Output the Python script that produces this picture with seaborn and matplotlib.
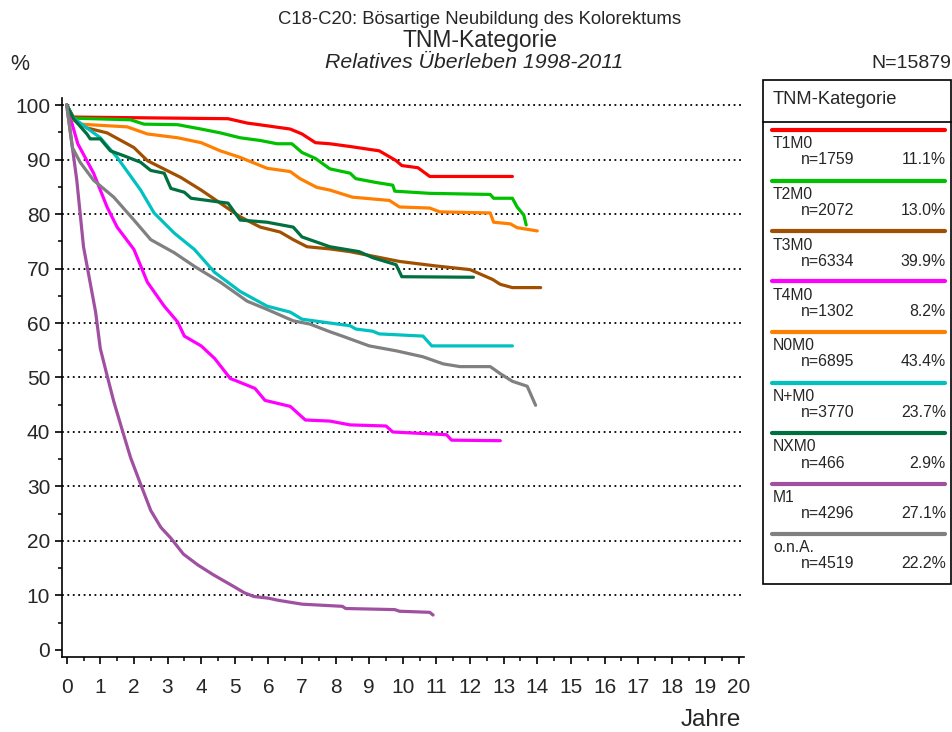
import numpy as np
import pandas as pd
import matplotlib
matplotlib.use("Agg")
import matplotlib.pyplot as plt
from matplotlib.patches import Rectangle
from matplotlib.lines import Line2D
from matplotlib.ticker import MultipleLocator
import seaborn as sns

# --- data ---
categories = ["T1M0", "T2M0", "T3M0", "T4M0", "N0M0", "N+M0", "NXM0", "M1", "o.n.A."]
n_values = [1759, 2072, 6334, 1302, 6895, 3770, 466, 4296, 4519]
pct_values = ["11.1%", "13.0%", "39.9%", "8.2%", "43.4%", "23.7%", "2.9%", "27.1%", "22.2%"]
colors = ["#ff0000", "#00c000", "#a05000", "#ff00ff", "#ff8000",
          "#00c0c0", "#007040", "#a050a0", "#808080"]

t1m0_t = [0, 0.2, 4.8, 5.37, 5.96, 6.65, 7.0, 7.4, 7.83, 8.43, 9.3, 9.8, 9.97, 10.45, 10.8, 13.26]
t1m0_v = [100, 97.8, 97.5, 96.7, 96.2, 95.6, 94.7, 93.1, 92.9, 92.4, 91.6, 89.8, 88.9, 88.5, 86.9, 86.9]

t2m0_t = [0, 0.2, 1.9, 2.3, 3.3, 4.0, 4.57, 5.16, 5.76, 6.26, 6.7, 7.0, 7.4, 7.83, 8.43, 8.6,
          9.2, 9.7, 9.76, 10.8, 12.6, 12.7, 13.26, 13.4, 13.6, 13.67]
t2m0_v = [100, 97.6, 97.3, 96.5, 96.4, 95.6, 94.9, 94.0, 93.5, 92.9, 92.9, 91.3, 90.2, 88.3, 87.5, 86.5,
          85.8, 85.3, 84.2, 83.8, 83.6, 82.9, 82.9, 81.3, 79.8, 78.0]

t3m0_t = [0, 0.2, 0.6, 1.2, 2.0, 2.4, 3.4, 4.0, 4.57, 5.16, 5.76, 6.35, 6.74, 7.15, 7.83, 8.43,
          9.9, 10.95, 12.0, 12.67, 12.9, 13.26, 14.1]
t3m0_v = [100, 97.5, 95.8, 94.9, 92.2, 89.8, 86.7, 84.4, 82.0, 79.5, 77.6, 76.7, 75.3, 74.0, 73.6, 73.1,
          71.3, 70.5, 69.8, 68.0, 67.1, 66.5, 66.5]

t4m0_t = [0, 0.33, 0.8, 1.2, 1.5, 2.0, 2.4, 2.9, 3.3, 3.5, 4.0, 4.4, 4.87, 5.0, 5.6, 5.9, 6.65,
          7.1, 7.83, 8.43, 9.5, 9.7, 11.3, 11.45, 12.9]
t4m0_v = [100, 92.9, 87.5, 81.3, 77.6, 73.5, 67.5, 63.1, 60.2, 57.6, 55.8, 53.5, 49.8, 49.5, 48.0, 45.8, 44.7,
          42.2, 42.0, 41.3, 41.1, 40.0, 39.5, 38.5, 38.4]

n0m0_t = [0, 0.2, 0.4, 1.8, 2.4, 3.3, 4.0, 4.57, 5.16, 5.96, 6.65, 6.94, 7.44, 7.83, 8.5, 9.6,
          9.9, 10.8, 11.1, 12.6, 12.7, 13.2, 13.4, 14.0]
n0m0_v = [100, 97.3, 96.5, 96.0, 94.7, 94.0, 93.1, 91.6, 90.4, 88.4, 87.8, 86.5, 84.9, 84.4, 83.1, 82.5,
          81.3, 81.1, 80.4, 80.2, 78.5, 78.2, 77.5, 76.9]

npm0_t = [0, 0.2, 1.0, 1.5, 2.2, 2.6, 3.2, 3.8, 4.4, 5.16, 5.96, 6.65, 7.0, 7.83, 8.43, 8.6,
          9.1, 9.3, 10.6, 10.86, 13.26]
npm0_v = [100, 97.6, 94.0, 90.4, 84.4, 80.2, 76.5, 73.5, 69.3, 65.8, 63.1, 62.0, 60.7, 60.0, 59.5, 58.9,
          58.5, 58.0, 57.6, 55.8, 55.8]

nxm0_t = [0, 0.2, 0.6, 0.7, 1.0, 1.3, 1.7, 2.2, 2.5, 2.9, 3.1, 3.5, 3.7, 4.8, 5.16, 5.96, 6.74,
          7.0, 7.83, 8.7, 9.1, 9.8, 9.97, 12.1]
nxm0_v = [100, 97.5, 94.7, 93.8, 93.8, 91.6, 90.7, 89.5, 88.0, 87.5, 84.7, 84.0, 82.9, 82.0, 78.9, 78.5, 77.6,
          75.8, 74.0, 73.1, 72.0, 70.7, 68.5, 68.4]

m1_t = [0, 0.3, 0.5, 0.86, 1.0, 1.2, 1.4, 1.65, 1.9, 2.2, 2.5, 2.8, 3.1, 3.47, 3.9, 4.36, 4.98,
        5.28, 5.57, 6.0, 6.3, 7.0, 8.2, 8.3, 9.76, 9.9, 10.8, 10.9]
m1_v = [100, 86.2, 74.0, 62.0, 55.3, 50.4, 45.6, 40.4, 35.3, 30.4, 25.6, 22.5, 20.5, 17.6, 15.6, 13.8, 11.6,
        10.5, 9.8, 9.5, 9.1, 8.4, 8.0, 7.6, 7.4, 7.1, 6.9, 6.4]

ona_t = [0, 0.17, 0.4, 0.8, 1.4, 2.0, 2.5, 3.2, 3.8, 4.57, 5.37, 5.96, 6.74, 7.24, 7.83, 8.2,
         9.0, 9.8, 10.6, 11.2, 11.7, 12.6, 12.9, 13.26, 13.7, 13.95]
ona_v = [100, 92.2, 89.5, 86.2, 83.1, 78.9, 75.3, 72.9, 70.4, 67.5, 64.0, 62.5, 60.4, 59.8, 58.4, 57.6,
         55.8, 54.9, 53.8, 52.5, 52.0, 52.0, 50.7, 49.3, 48.4, 44.9]

series_t = [t1m0_t, t2m0_t, t3m0_t, t4m0_t, n0m0_t, npm0_t, nxm0_t, m1_t, ona_t]
series_v = [t1m0_v, t2m0_v, t3m0_v, t4m0_v, n0m0_v, npm0_v, nxm0_v, m1_v, ona_v]

frames = []
for cat, t, v in zip(categories, series_t, series_v):
    frames.append(pd.DataFrame({"Jahre": t, "Ueberleben": v, "Kategorie": cat}))
df = pd.concat(frames, ignore_index=True)

# --- plotting ---
sns.set_style("ticks")
plt.rcParams["font.family"] = ["Liberation Sans", "DejaVu Sans"]

W, H = 953, 732
fig = plt.figure(figsize=(W / 100, H / 100), dpi=100)
ax = fig.add_axes([62 / W, 75 / H, (744 - 62) / W, (657 - 98) / H])

sns.lineplot(data=df, x="Jahre", y="Ueberleben", hue="Kategorie",
             palette=dict(zip(categories, colors)), hue_order=categories,
             estimator=None, sort=False, linewidth=2.3, legend=False, ax=ax)

ax.set_xlim(-0.14, 20.15)
ax.set_ylim(-1.3, 101.3)
ax.xaxis.set_major_locator(MultipleLocator(1))
ax.xaxis.set_minor_locator(MultipleLocator(0.5))
ax.yaxis.set_major_locator(MultipleLocator(10))
ax.yaxis.set_minor_locator(MultipleLocator(5))
ax.tick_params(axis="both", which="major", direction="out", length=5, width=1.2,
               color="black", labelsize=15)
ax.tick_params(axis="both", which="minor", direction="out", length=3, width=1.1, color="black")
ax.tick_params(axis="x", which="major", pad=10)
ax.tick_params(axis="y", which="major", pad=3.5)
ax.set_xlabel("")
ax.set_ylabel("")
for s in ["top", "right"]:
    ax.spines[s].set_visible(False)
for s in ["left", "bottom"]:
    ax.spines[s].set_linewidth(1.2)
    ax.spines[s].set_color("black")

ax.grid(axis="y", which="major", color="black", linestyle=(0, (1, 2)), linewidth=1.3)
ax.set_axisbelow(True)
for gl, yv in zip(ax.get_ygridlines(), ax.get_yticks()):
    if yv < 5:
        gl.set_visible(False)

# --- titles ---
fig.text(480 / W, 1 - 20 / H, "C18-C20: Bösartige Neubildung des Kolorektums",
         ha="center", va="center", fontsize=13.3)
fig.text(480 / W, 1 - 41 / H, "TNM-Kategorie", ha="center", va="center", fontsize=16.5)
fig.text(474 / W, 1 - 63 / H, "Relatives Überleben 1998-2011", ha="center", va="center",
         fontsize=15.3, style="italic")
fig.text(10 / W, 1 - 64 / H, "%", ha="left", va="center", fontsize=15.5)
fig.text(951 / W, 1 - 64 / H, "N=15879", ha="right", va="center", fontsize=14)
fig.text(741 / W, 1 - 720 / H, "Jahre", ha="right", va="center", fontsize=17.5)

# --- legend box ---
fig.patches.append(Rectangle((763 / W, 1 - 584 / H), (951 - 763) / W, (584 - 80) / H,
                             transform=fig.transFigure, fill=False, edgecolor="black",
                             linewidth=1.2))
fig.add_artist(Line2D([763 / W, 951 / W], [1 - 122 / H, 1 - 122 / H],
                      transform=fig.transFigure, color="black", linewidth=1.2))
fig.text(773 / W, 1 - 100 / H, "TNM-Kategorie", ha="left", va="center", fontsize=13.2)

step = 50.5
for i, (cat, n, p, c) in enumerate(zip(categories, n_values, pct_values, colors)):
    y0 = 130 + step * i
    fig.add_artist(Line2D([772 / W, 945 / W], [1 - y0 / H, 1 - y0 / H],
                          transform=fig.transFigure, color=c, linewidth=3))
    fig.text(773 / W, 1 - (y0 + 14) / H, cat, ha="left", va="center", fontsize=11.3)
    fig.text(801 / W, 1 - (y0 + 30) / H, f"n={n}", ha="left", va="center", fontsize=11.4)
    fig.text(946 / W, 1 - (y0 + 30) / H, p, ha="right", va="center", fontsize=11.4)

fig.savefig("out.png", dpi=100, facecolor="white")
